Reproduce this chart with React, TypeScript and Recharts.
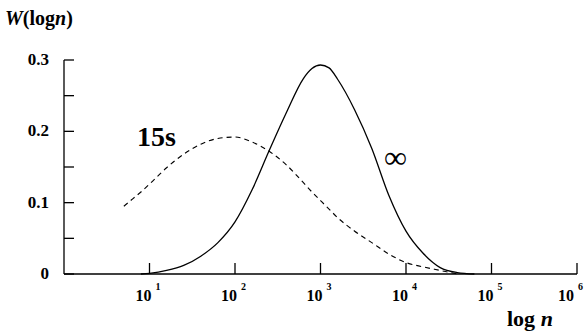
import { Line, LineChart, XAxis, YAxis } from "recharts";

// log10(n) sample positions
const logN = [
  0.7, 0.8, 0.9, 1.0, 1.2, 1.4, 1.6, 1.8, 2.0, 2.2, 2.4, 2.6, 2.8, 2.9, 3.0,
  3.1, 3.2, 3.4, 3.6, 3.8, 4.0, 4.2, 4.4, 4.6, 4.8,
];
// W(log n) after 15 s (dashed)
const w15s = [
  0.095, 0.105, 0.115, 0.126, 0.149, 0.168, 0.182, 0.19, 0.192, 0.185, 0.172,
  0.153, 0.128, 0.115, 0.103, 0.091, 0.079, 0.06, 0.044, 0.028, 0.016, 0.01,
  0.005, 0.0, null,
];
// W(log n) at infinity (solid)
const wInf = [
  null, null, 0.0, 0.001, 0.005, 0.012, 0.025, 0.044, 0.073, 0.118, 0.173,
  0.226, 0.274, 0.288, 0.293, 0.289, 0.273, 0.23, 0.176, 0.11, 0.06, 0.029,
  0.009, 0.002, 0.0,
];
const xTicks = [1, 2, 3, 4, 5, 6];
const yTicks = [0, 0.05, 0.1, 0.15, 0.2, 0.25, 0.3];

const rows = logN.map((x, i) => ({ x, w15s: w15s[i], wInf: wInf[i] }));

const FONT = "Liberation Serif, Times New Roman, serif";

function XTick({ x, y, payload }: any) {
  // last label sits at the right edge, nudge it in so the exponent stays visible
  const dx = payload.value === 6 ? -5 : 0;
  return (
    <g>
      <line x1={x} y1={y} x2={x} y2={y - 11} stroke="#000" strokeWidth={1.3} />
      <text
        x={x + 2 + dx}
        y={y + 27}
        textAnchor="end"
        fontFamily={FONT}
        fontWeight="bold"
        fontSize={16}
        fill="#000"
      >
        10
      </text>
      <text
        x={x + 6 + dx}
        y={y + 16}
        fontFamily={FONT}
        fontWeight="bold"
        fontSize={10}
        fill="#000"
      >
        {payload.value}
      </text>
    </g>
  );
}

function YTick({ x, y, payload }: any) {
  const v = payload.value;
  const labelled = Math.round(v * 100) % 10 === 0;
  return (
    <g>
      <line x1={x} y1={y} x2={x + 10} y2={y} stroke="#000" strokeWidth={1.3} />
      {labelled && (
        <text
          x={x - 15}
          y={y + 5}
          textAnchor="end"
          fontFamily={FONT}
          fontWeight="bold"
          fontSize={17}
          fill="#000"
        >
          {v === 0 ? "0" : v.toFixed(1)}
        </text>
      )}
    </g>
  );
}

export default function App() {
  return (
    <div
      style={{
        position: "absolute",
        left: 0,
        top: 0,
        width: 585,
        height: 335,
        background: "#fff",
      }}
    >
      <LineChart
        width={585}
        height={335}
        data={rows}
        margin={{ top: 60, right: 8, bottom: 0, left: 0 }}
      >
        <XAxis
          dataKey="x"
          type="number"
          domain={[0, 6]}
          ticks={xTicks}
          interval={0}
          height={61}
          tickSize={0}
          tickMargin={0}
          tickLine={false}
          axisLine={{ stroke: "#000", strokeWidth: 1.3 }}
          tick={<XTick />}
        />
        <YAxis
          type="number"
          domain={[0, 0.3]}
          ticks={yTicks}
          interval={0}
          width={64}
          tickSize={0}
          tickMargin={0}
          tickLine={false}
          axisLine={{ stroke: "#000", strokeWidth: 1.3 }}
          tick={<YTick />}
        />
        <Line
          dataKey="w15s"
          type="monotone"
          stroke="#000"
          strokeWidth={1.1}
          strokeDasharray="5 4"
          dot={false}
          activeDot={false}
          isAnimationActive={false}
        />
        <Line
          dataKey="wInf"
          type="monotone"
          stroke="#000"
          strokeWidth={1.3}
          dot={false}
          activeDot={false}
          isAnimationActive={false}
        />
      </LineChart>
      <svg
        width={585}
        height={335}
        style={{ position: "absolute", left: 0, top: 0, pointerEvents: "none" }}
      >
        <text x={5} y={25} fontFamily={FONT} fontWeight="bold" fontSize={20} fill="#000">
          <tspan fontStyle="italic">W</tspan>(log<tspan fontStyle="italic">n</tspan>)
        </text>
        <text x={137} y={146} fontFamily={FONT} fontWeight="bold" fontSize={28} fill="#000">
          15s
        </text>
        <text x={384} y={168} fontFamily={FONT} fontSize={32} fill="#000">
          ∞
        </text>
        <text x={507} y={326} fontFamily={FONT} fontWeight="bold" fontSize={22} fill="#000">
          log <tspan fontStyle="italic">n</tspan>
        </text>
      </svg>
    </div>
  );
}
